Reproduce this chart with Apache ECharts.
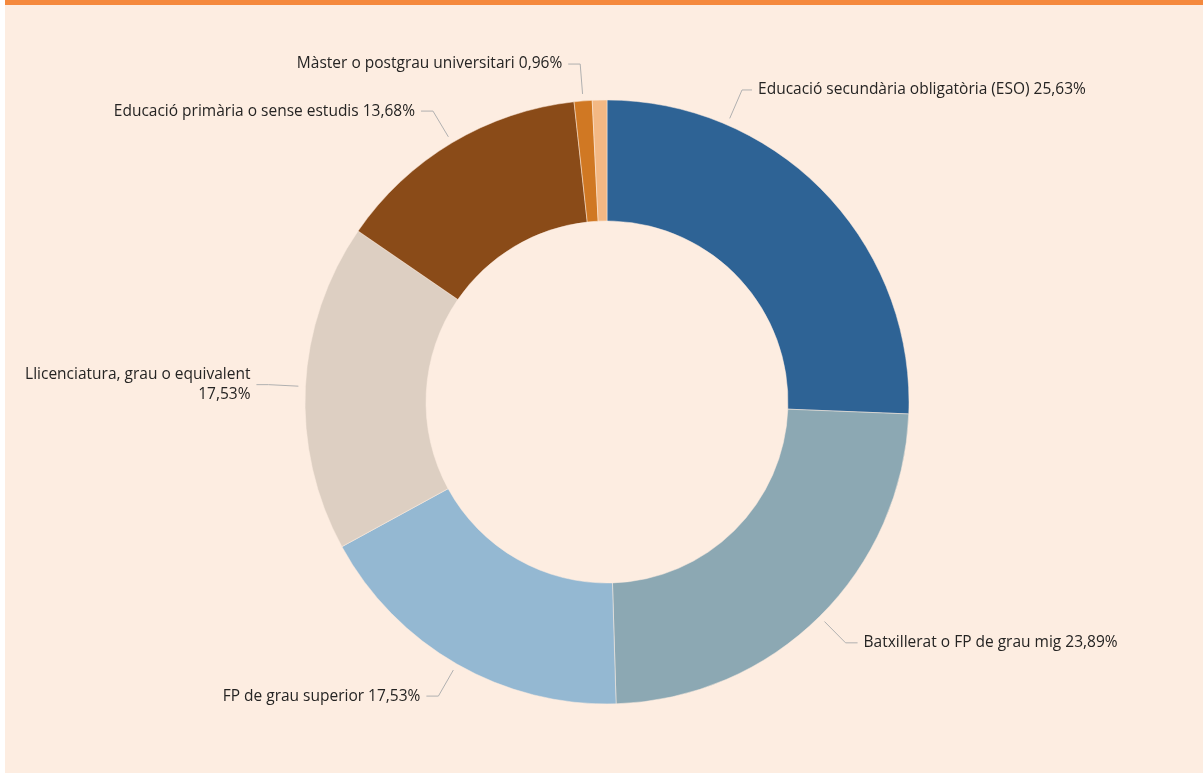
<!DOCTYPE html>
<html>
<head>
<meta charset="utf-8">
<script src="https://cdn.jsdelivr.net/npm/echarts@6/dist/echarts.min.js"></script>
<style>
  html, body { margin: 0; padding: 0; background: #ffffff; }
  .frame {
    position: absolute; left: 5px; top: 0; width: 1198px; height: 773px;
    background: #fdede1; border-top: 5px solid #f5893d; box-sizing: border-box;
  }
  #chart { width: 1198px; height: 768px; }
</style>
</head>
<body>
<div class="frame"><div id="chart"></div></div>
<script>
// nivell d'estudis (%)
const categories = [
  'Educació secundària obligatòria (ESO)',
  'Batxillerat o FP de grau mig',
  'FP de grau superior',
  'Llicenciatura, grau o equivalent',
  'Educació primària o sense estudis',
  'Màster o postgrau universitari',
  'Doctorat'
];
const values = [25.63, 23.89, 17.53, 17.53, 13.68, 0.96, 0.78];
const colors = ['#2e6395', '#8ca8b3', '#94b8d2', '#ddcfc2', '#8a4b18', '#d07823', '#f3b884'];
const hiddenLabels = ['Doctorat'];
const wrappedLabels = ['Llicenciatura, grau o equivalent'];

const CX = 602, CY = 397, R_IN = 181, R_OUT = 302;
const GAP = 7;          // space between slice and start of label line
const LINE1 = 31;       // first segment of label line
const FIRST_ANGLE = 23.4; // degrees from top where the ESO label line leaves the ring

const myChart = echarts.init(document.getElementById('chart'));

const data = categories.map((name, i) => {
  const item = { name: name, value: values[i], itemStyle: { color: colors[i] } };
  if (hiddenLabels.includes(name)) {
    item.label = { show: false };
    item.labelLine = { show: false };
  }
  return item;
});

// point at a given distance from the centre, in the direction of p
function outward(p, dist) {
  const dx = p[0] - CX, dy = p[1] - CY;
  const d = Math.sqrt(dx * dx + dy * dy);
  return [CX + dx / d * dist, CY + dy / d * dist];
}

const option = {
  animation: false,
  series: [{
    type: 'pie',
    center: [CX, CY],
    radius: [R_IN, R_OUT],
    startAngle: 90,
    clockwise: true,
    itemStyle: {
      borderColor: '#fdede1',
      borderWidth: 0.5
    },
    label: {
      show: true,
      overflow: 'none',
      fontFamily: 'Open Sans',
      fontSize: 15.5,
      color: '#252423',
      lineHeight: 20,
      distanceToLabelLine: 6,
      formatter: (p) => {
        const pct = p.value.toFixed(2).replace('.', ',') + '%';
        return wrappedLabels.includes(p.name) ? p.name + '\n' + pct : p.name + ' ' + pct;
      }
    },
    labelLine: {
      show: true,
      length: 37,
      length2: 12,
      lineStyle: { color: '#b0b0b0', width: 1 }
    },
    labelLayout: (params) => {
      const pts = params.labelLinePoints;
      if (!pts) return {};
      if (params.dataIndex !== 0) {
        return { labelLinePoints: [outward(pts[0], R_OUT + GAP), pts[1], pts[2]] };
      }
      // the first label sits near the top of its slice
      const a = FIRST_ANGLE * Math.PI / 180;
      const rk = R_OUT + GAP + LINE1;
      const knee = [CX + rk * Math.sin(a), CY - rk * Math.cos(a)];
      const start = [CX + (R_OUT + GAP) * Math.sin(a), CY - (R_OUT + GAP) * Math.cos(a)];
      const end = [knee[0] + 10, knee[1]];
      return { x: end[0] + 6, y: knee[1], labelLinePoints: [start, knee, end] };
    },
    data: data
  }]
};

myChart.setOption(option);
</script>
</body>
</html>
